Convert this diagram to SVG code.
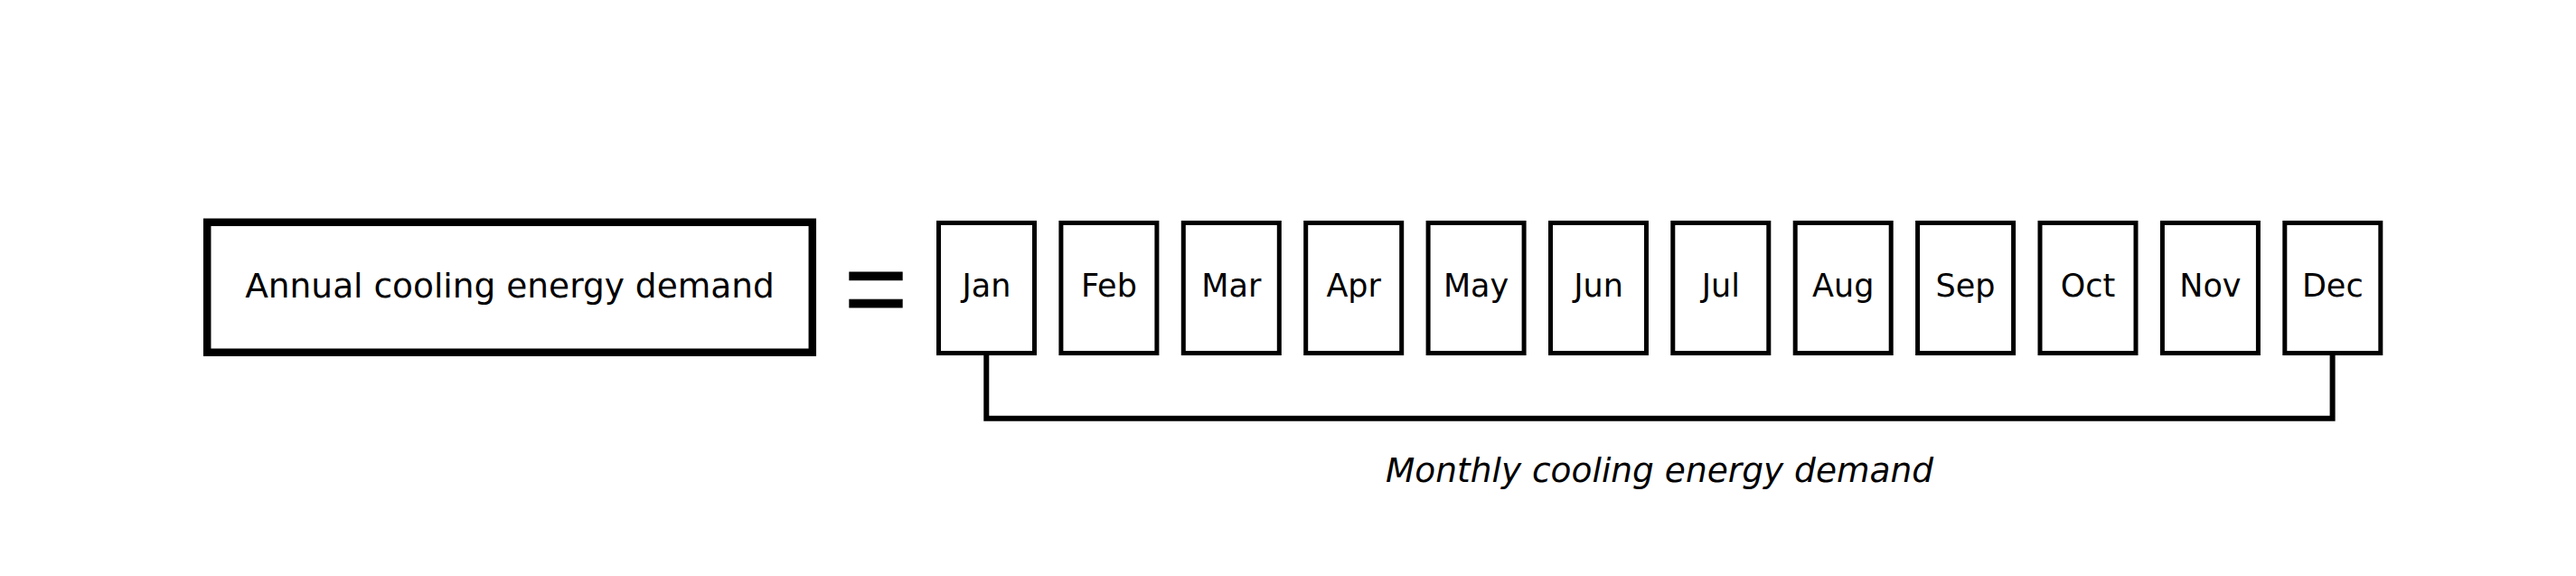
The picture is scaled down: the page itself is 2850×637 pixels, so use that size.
<svg xmlns="http://www.w3.org/2000/svg" width="2850" height="637" viewBox="0 0 2850 637">
<style>
  .bg { fill: #ffffff; }
  .month rect { fill: #ffffff; stroke: #000000; stroke-width: 5; }
  .month text, .annual text { font-family: "DejaVu Sans", sans-serif; fill: #000000; text-anchor: middle; }
  .month text { font-size: 35px; }
  .annual rect { fill: #ffffff; stroke: #000000; stroke-width: 8.5; }
  .annual text { font-size: 37.5px; }
  .eq { font-family: "Liberation Sans", sans-serif; font-size: 120px; text-anchor: middle; fill: #000000; stroke: #000000; stroke-width: 1; }
  .conn { fill: none; stroke: #000000; stroke-width: 6; }
  .label { font-family: "DejaVu Sans", sans-serif; font-style: italic; font-size: 37.5px; text-anchor: middle; fill: #000000; }
</style>
<rect class="bg" x="0" y="0" width="2850" height="637"/>
<g id="annual" class="annual">
  <rect x="229.2" y="245.8" width="669.6" height="143.9"/>
  <text x="564" y="329">Annual cooling energy demand</text>
</g>
<g id="equals">
  <text class="eq" x="969" y="360">=</text>
</g>
<g id="connectors">
  <path class="conn" d="M1091.3 390 V462.7 H2580.6 V390"/>
</g>
<g id="jan" class="month"><rect x="1038.5" y="246.5" width="106" height="144"/><text x="1091.5" y="328.3">Jan</text></g>
<g id="feb" class="month"><rect x="1173.9" y="246.5" width="106" height="144"/><text x="1226.9" y="328.3">Feb</text></g>
<g id="mar" class="month"><rect x="1309.3" y="246.5" width="106" height="144"/><text x="1362.3" y="328.3">Mar</text></g>
<g id="apr" class="month"><rect x="1444.7" y="246.5" width="106" height="144"/><text x="1497.7" y="328.3">Apr</text></g>
<g id="may" class="month"><rect x="1580.1" y="246.5" width="106" height="144"/><text x="1633.1" y="328.3">May</text></g>
<g id="jun" class="month"><rect x="1715.5" y="246.5" width="106" height="144"/><text x="1768.5" y="328.3">Jun</text></g>
<g id="jul" class="month"><rect x="1850.8" y="246.5" width="106" height="144"/><text x="1903.8" y="328.3">Jul</text></g>
<g id="aug" class="month"><rect x="1986.2" y="246.5" width="106" height="144"/><text x="2039.2" y="328.3">Aug</text></g>
<g id="sep" class="month"><rect x="2121.6" y="246.5" width="106" height="144"/><text x="2174.6" y="328.3">Sep</text></g>
<g id="oct" class="month"><rect x="2257.0" y="246.5" width="106" height="144"/><text x="2310.0" y="328.3">Oct</text></g>
<g id="nov" class="month"><rect x="2392.4" y="246.5" width="106" height="144"/><text x="2445.4" y="328.3">Nov</text></g>
<g id="dec" class="month"><rect x="2527.8" y="246.5" width="106" height="144"/><text x="2580.8" y="328.3">Dec</text></g>
<text class="label" x="1836" y="533">Monthly cooling energy demand</text>
</svg>
